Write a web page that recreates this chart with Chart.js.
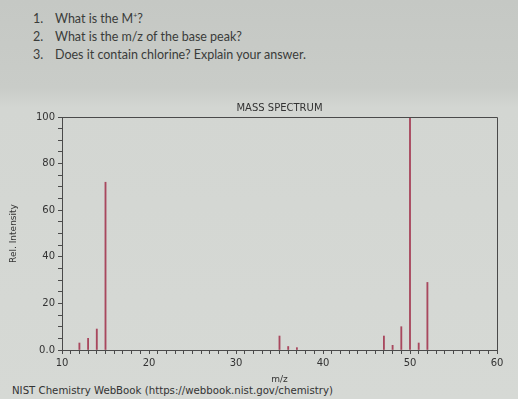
<!DOCTYPE html>
<html>
<head>
<meta charset="utf-8">
<script src="https://cdn.jsdelivr.net/npm/chart.js@4.4.1/dist/chart.umd.min.js"></script>
<style>
  html, body {
    margin: 0;
    padding: 0;
  }
  body {
    width: 518px;
    height: 399px;
    position: relative;
    overflow: hidden;
    background: linear-gradient(#c5c8c4 0px, #c9ccc8 88px, #d3d6d2 108px, #d6d9d5 399px);
    font-family: "DejaVu Sans", sans-serif;
  }
  .questions {
    position: absolute;
    left: 33px;
    top: 6px;
    font-family: Lato, "Open Sans", sans-serif;
    font-size: 12.5px;
    line-height: 18px;
    color: #3a3c3a;
  }
  .questions span {
    display: inline-block;
    width: 22px;
  }
  .chart-box {
    position: absolute;
    left: 0;
    top: 95px;
    width: 518px;
    height: 290px;
  }
  .source {
    position: absolute;
    left: 12px;
    top: 385px;
    font-family: "DejaVu Sans", sans-serif;
    font-size: 10.2px;
    color: #333;
  }
</style>
</head>
<body>
<div class="questions">
  <div><span>1.</span>What is the M<sup style="font-size:7px">+</sup>?</div>
  <div><span>2.</span>What is the m/z of the base peak?</div>
  <div><span>3.</span>Does it contain chlorine? Explain your answer.</div>
</div>
<div class="chart-box"><canvas id="spectrum"></canvas></div>
<div class="source">NIST Chemistry WebBook (https://webbook.nist.gov/chemistry)</div>

<script>
const mz = [12, 13, 14, 15, 35, 36, 37, 47, 48, 49, 50, 51, 52];
const rel_intensity = [3, 5, 9, 72, 6, 1.5, 1, 6, 2, 10, 100, 3, 29];
const x_labels = [10, 20, 30, 40, 50, 60];
const y_labels = [0, 20, 40, 60, 80, 100];

const axis_color = "#4a4a4a";
const text_color = "#333";

// top and right lines of the frame
const frame = {
  id: "frame",
  afterDraw(chart) {
    const { ctx, chartArea } = chart;
    ctx.save();
    ctx.strokeStyle = axis_color;
    ctx.lineWidth = 1;
    ctx.beginPath();
    ctx.moveTo(chartArea.left, chartArea.top + 0.5);
    ctx.lineTo(chartArea.right + 0.5, chartArea.top + 0.5);
    ctx.lineTo(chartArea.right + 0.5, chartArea.bottom);
    ctx.stroke();
    ctx.restore();
  },
};

Chart.defaults.font.family = "'DejaVu Sans', sans-serif";
Chart.defaults.color = text_color;

new Chart(document.getElementById("spectrum"), {
  type: "bar",
  data: {
    datasets: [
      {
        data: mz.map((m, i) => ({ x: m, y: rel_intensity[i] })),
        backgroundColor: "#a8485e",
        barThickness: 1.2,
      },
    ],
  },
  options: {
    responsive: true,
    maintainAspectRatio: false,
    animation: false,
    layout: {
      padding: { left: 8, right: 21, top: 0, bottom: 0 },
    },
    plugins: {
      legend: { display: false },
      tooltip: { enabled: false },
      title: {
        display: true,
        text: "MASS SPECTRUM",
        fullSize: false,
        color: text_color,
        font: { size: 10, weight: "normal" },
        padding: { top: 7, bottom: 3 },
      },
    },
    scales: {
      x: {
        type: "linear",
        min: 10,
        max: 60,
        offset: false,
        grid: {
          offset: false,
          drawOnChartArea: false,
          tickLength: 4,
          tickColor: axis_color,
        },
        border: { color: axis_color, width: 1 },
        ticks: {
          stepSize: 1,
          autoSkip: false,
          maxRotation: 0,
          padding: 3,
          font: { size: 10 },
          callback: (value) => (x_labels.includes(value) ? value : ""),
        },
        title: {
          display: true,
          text: "m/z",
          font: { size: 9 },
          padding: { top: 2, bottom: 0 },
        },
        afterFit: (scale) => {
          scale.height = 35;
        },
      },
      y: {
        min: 0,
        max: 100,
        grid: {
          drawOnChartArea: false,
          tickLength: 4,
          tickColor: axis_color,
        },
        border: { color: axis_color, width: 1 },
        ticks: {
          stepSize: 5,
          autoSkip: false,
          padding: 3,
          font: { size: 10 },
          callback: (value) =>
            y_labels.includes(value) ? (value === 0 ? "0.0" : value) : "",
        },
        title: {
          display: true,
          text: "Rel. Intensity",
          font: { size: 9 },
          padding: 0,
        },
        afterFit: (scale) => {
          scale.width = 54;
        },
      },
    },
  },
  plugins: [frame],
});
</script>
</body>
</html>
